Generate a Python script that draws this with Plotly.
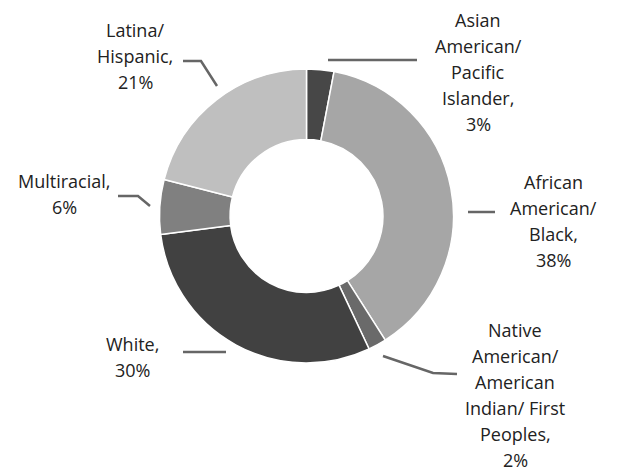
import plotly.graph_objects as go

categories = ["Asian American/<br>Pacific<br>Islander,", "African<br>American/<br>Black,",
              "Native<br>American/<br>American<br>Indian/ First<br>Peoples,", "White,",
              "Multiracial,", "Latina/<br>Hispanic,"]
values = [3, 38, 2, 30, 6, 21]
colors = ["#474747", "#a6a6a6", "#6a6a6a", "#414141", "#808080", "#bfbfbf"]

W, H = 618, 467
OFF = 8  # page body margin offset
cx, cy, R = 306.5 - OFF, 216 - OFF, 147

fig = go.Figure(go.Pie(
    values=values,
    labels=[c.replace("<br>", " ") for c in categories],
    sort=False, direction="clockwise", rotation=0,
    hole=0.52,
    marker=dict(colors=colors, line=dict(color="white", width=1.5)),
    textinfo="none", hoverinfo="label+percent", showlegend=False,
    domain=dict(x=[(cx - R) / W, (cx + R) / W], y=[(H - cy - R) / H, (H - cy + R) / H]),
))

# label text blocks: (center x px, first line y px) in reference pixels
label_pos = [(478, 20), (553, 182), (515, 330), (132, 344), (64, 181), (135, 30)]
label_lines = []
for cat, v in zip(categories, values):
    label_lines.append(cat.split("<br>") + [f"{v}%"])
label_lines[0] = ["Asian", "American/", "Pacific", "Islander,", f"{values[0]}%"]

def px(x, y):
    return (x - OFF) / W, 1 - (y - OFF) / H

annotations = []
LH = 26
for (x, y0), lines in zip(label_pos, label_lines):
    for i, t in enumerate(lines):
        ax, ay = px(x, y0 + i * LH)
        annotations.append(dict(
            x=ax, y=ay, xref="paper", yref="paper",
            text=t, showarrow=False, xanchor="center", yanchor="middle",
            font=dict(family="Open Sans", size=18, color="#222222"),
        ))

# leader lines (reference pixel paths)
leaders = [
    [(328, 60), (417, 60)],
    [(468, 212), (495, 212)],
    [(383, 356), (433, 373), (457, 374)],
    [(183, 352), (226, 352)],
    [(118, 196), (138, 196), (150, 206)],
    [(183, 61), (201, 61), (217, 86)],
]
shapes = []
for pts in leaders:
    path = "M " + " L ".join("{},{}".format(*px(x, y)) for x, y in pts)
    shapes.append(dict(type="path", xref="paper", yref="paper", path=path,
                       line=dict(color="#666666", width=2.5)))

fig.update_layout(
    width=W, height=H, margin=dict(l=0, r=0, t=0, b=0),
    paper_bgcolor="white", plot_bgcolor="white",
    annotations=annotations, shapes=shapes,
)
fig.write_html("out.html")
